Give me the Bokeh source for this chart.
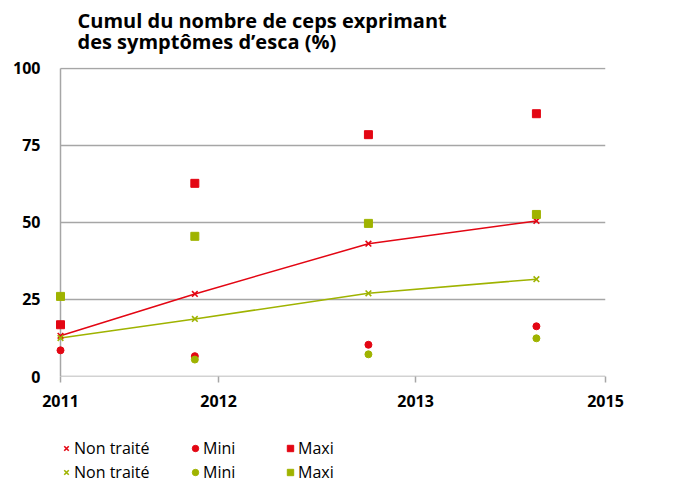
from bokeh.plotting import figure
from bokeh.models import Range1d, Label, Legend, LegendItem, FixedTicker
from bokeh.layouts import column
from bokeh.embed import file_html
from bokeh.resources import INLINE

# ---- data ----
dates = [2011.0, 2011.986, 2013.26, 2014.493]          # sampling dates (fractional years)
red_non_traite = [13.2, 26.8, 43.1, 50.5]
red_mini = [8.5, 6.6, 10.3, 16.3]
red_maxi = [16.8, 62.7, 78.5, 85.3]
green_non_traite = [12.5, 18.7, 27.0, 31.6]
green_mini_dates = [2011.986, 2013.26, 2014.493]
green_mini = [5.5, 7.2, 12.4]
green_maxi = [26.0, 45.5, 49.7, 52.6]
y_ticks = [0, 25, 50, 75, 100]
x_tick_pos = [2011.0, 2012.16, 2013.606, 2015.0]
x_tick_labels = ["2011", "2012", "2013", "2015"]
title_lines = ["Cumul du nombre de ceps exprimant", "des symptômes d’esca (%)"]
legend_labels = ["Non traité", "Mini", "Maxi"]

RED = "#E30613"
GREEN = "#9FB300"
GRID = "#A6A6A6"
FONT = "Open Sans"
W = 683
BL, FW = 50, 555
BR = W - BL - FW


def strip(height):
    f = figure(output_backend="svg", toolbar_location=None, frame_width=FW, frame_height=height,
               min_border_left=BL, min_border_right=BR, min_border_top=0, min_border_bottom=0,
               x_range=Range1d(BL, BL + FW), y_range=Range1d(height, 0),
               x_axis_type=None, y_axis_type=None)
    f.outline_line_color = None
    f.grid.visible = False
    return f


# ---------- title strip ----------
TH = 58
pt = strip(TH)
for line, yc in zip(title_lines, [20, 41]):
    pt.add_layout(Label(x=77, y=yc, text=line, text_font=FONT,
                        text_font_style="bold", text_font_size="20px",
                        text_baseline="middle", text_color="#000000"))

# ---------- main chart ----------
x_start = 2011.0 - 10 / 136.25
p = figure(output_backend="svg", toolbar_location=None,
           frame_width=FW, frame_height=309,
           min_border_left=BL, min_border_top=67 - TH, min_border_right=BR,
           min_border_bottom=40,
           x_range=Range1d(x_start, 2015.0), y_range=Range1d(0, 100.3))
p.outline_line_color = None
p.xgrid.visible = False
p.ygrid.visible = False

p.segment(x0=[2011.0] * 4, x1=[2015.0] * 4, y0=y_ticks[1:], y1=y_ticks[1:],
          line_color=GRID, line_width=1.5)
p.segment(x0=[2011.0], x1=[2011.0], y0=[0], y1=[100], line_color=GRID, line_width=1.5)
p.segment(x0=[2011.0], x1=[2015.0], y0=[0], y1=[0], line_color=GRID, line_width=1.5)

p.yaxis.ticker = FixedTicker(ticks=y_ticks)
p.yaxis.axis_line_color = None
p.yaxis.major_tick_line_color = None
p.yaxis.minor_tick_line_color = None
p.yaxis.major_tick_out = 0
p.yaxis.major_label_standoff = 10
p.yaxis.major_label_text_font = FONT
p.yaxis.major_label_text_font_style = "bold"
p.yaxis.major_label_text_font_size = "16px"
p.yaxis.major_label_text_color = "#000000"

p.xaxis.ticker = FixedTicker(ticks=x_tick_pos)
p.xaxis.major_label_overrides = {t: l for t, l in zip(x_tick_pos, x_tick_labels)}
p.xaxis.axis_line_color = None
p.xaxis.major_tick_line_color = GRID
p.xaxis.major_tick_line_width = 1.5
p.xaxis.major_tick_out = 6
p.xaxis.major_tick_in = 0
p.xaxis.minor_tick_line_color = None
p.xaxis.major_label_standoff = 12
p.xaxis.major_label_text_font = FONT
p.xaxis.major_label_text_font_style = "bold"
p.xaxis.major_label_text_font_size = "16px"
p.xaxis.major_label_text_color = "#000000"

series = [
    ("x", dates, red_non_traite, dict(line_color=RED, line_width=1.6), 8),
    ("x", dates, green_non_traite, dict(line_color=GREEN, line_width=1.6), 8),
    ("circle", dates, red_mini, dict(fill_color=RED, line_color=RED), 7),
    ("circle", green_mini_dates, green_mini, dict(fill_color=GREEN, line_color=GREEN), 7),
    ("square", dates, red_maxi, dict(fill_color=RED, line_color=RED), 8),
    ("square", dates, green_maxi, dict(fill_color=GREEN, line_color=GREEN), 8),
]
p.line(dates, red_non_traite, line_color=RED, line_width=1.5)
p.line(dates, green_non_traite, line_color=GREEN, line_width=1.5)
for mk, xs, ys, st, sz in series:
    p.scatter(xs, ys, marker=mk, size=sz, **st)

# ---------- legend strip ----------
LH = 72
pl = strip(LH)
# legend renderers (their points fall outside this strip's view; only the legend glyphs show)
leg_r = []
for mk, xs, ys, st, sz in series:
    leg_r.append(pl.scatter(xs, ys, marker=mk, size=sz, **st))
col_x = [58, 187, 282]
for i, (label, vx) in enumerate(zip(legend_labels, col_x)):
    lg = Legend(items=[LegendItem(label=label, renderers=[leg_r[2 * i]]),
                       LegendItem(label=label, renderers=[leg_r[2 * i + 1]])],
                location=(vx - BL, 5), orientation="vertical",
                glyph_width=16, glyph_height=20, label_standoff=0, spacing=2,
                padding=0, margin=0, border_line_color=None, background_fill_alpha=0,
                label_text_font=FONT, label_text_font_size="16px", label_text_color="#000000")
    pl.add_layout(lg, "center")

layout = column(pt, p, pl, spacing=0)
open("out.html", "w").write(file_html(layout, INLINE))
